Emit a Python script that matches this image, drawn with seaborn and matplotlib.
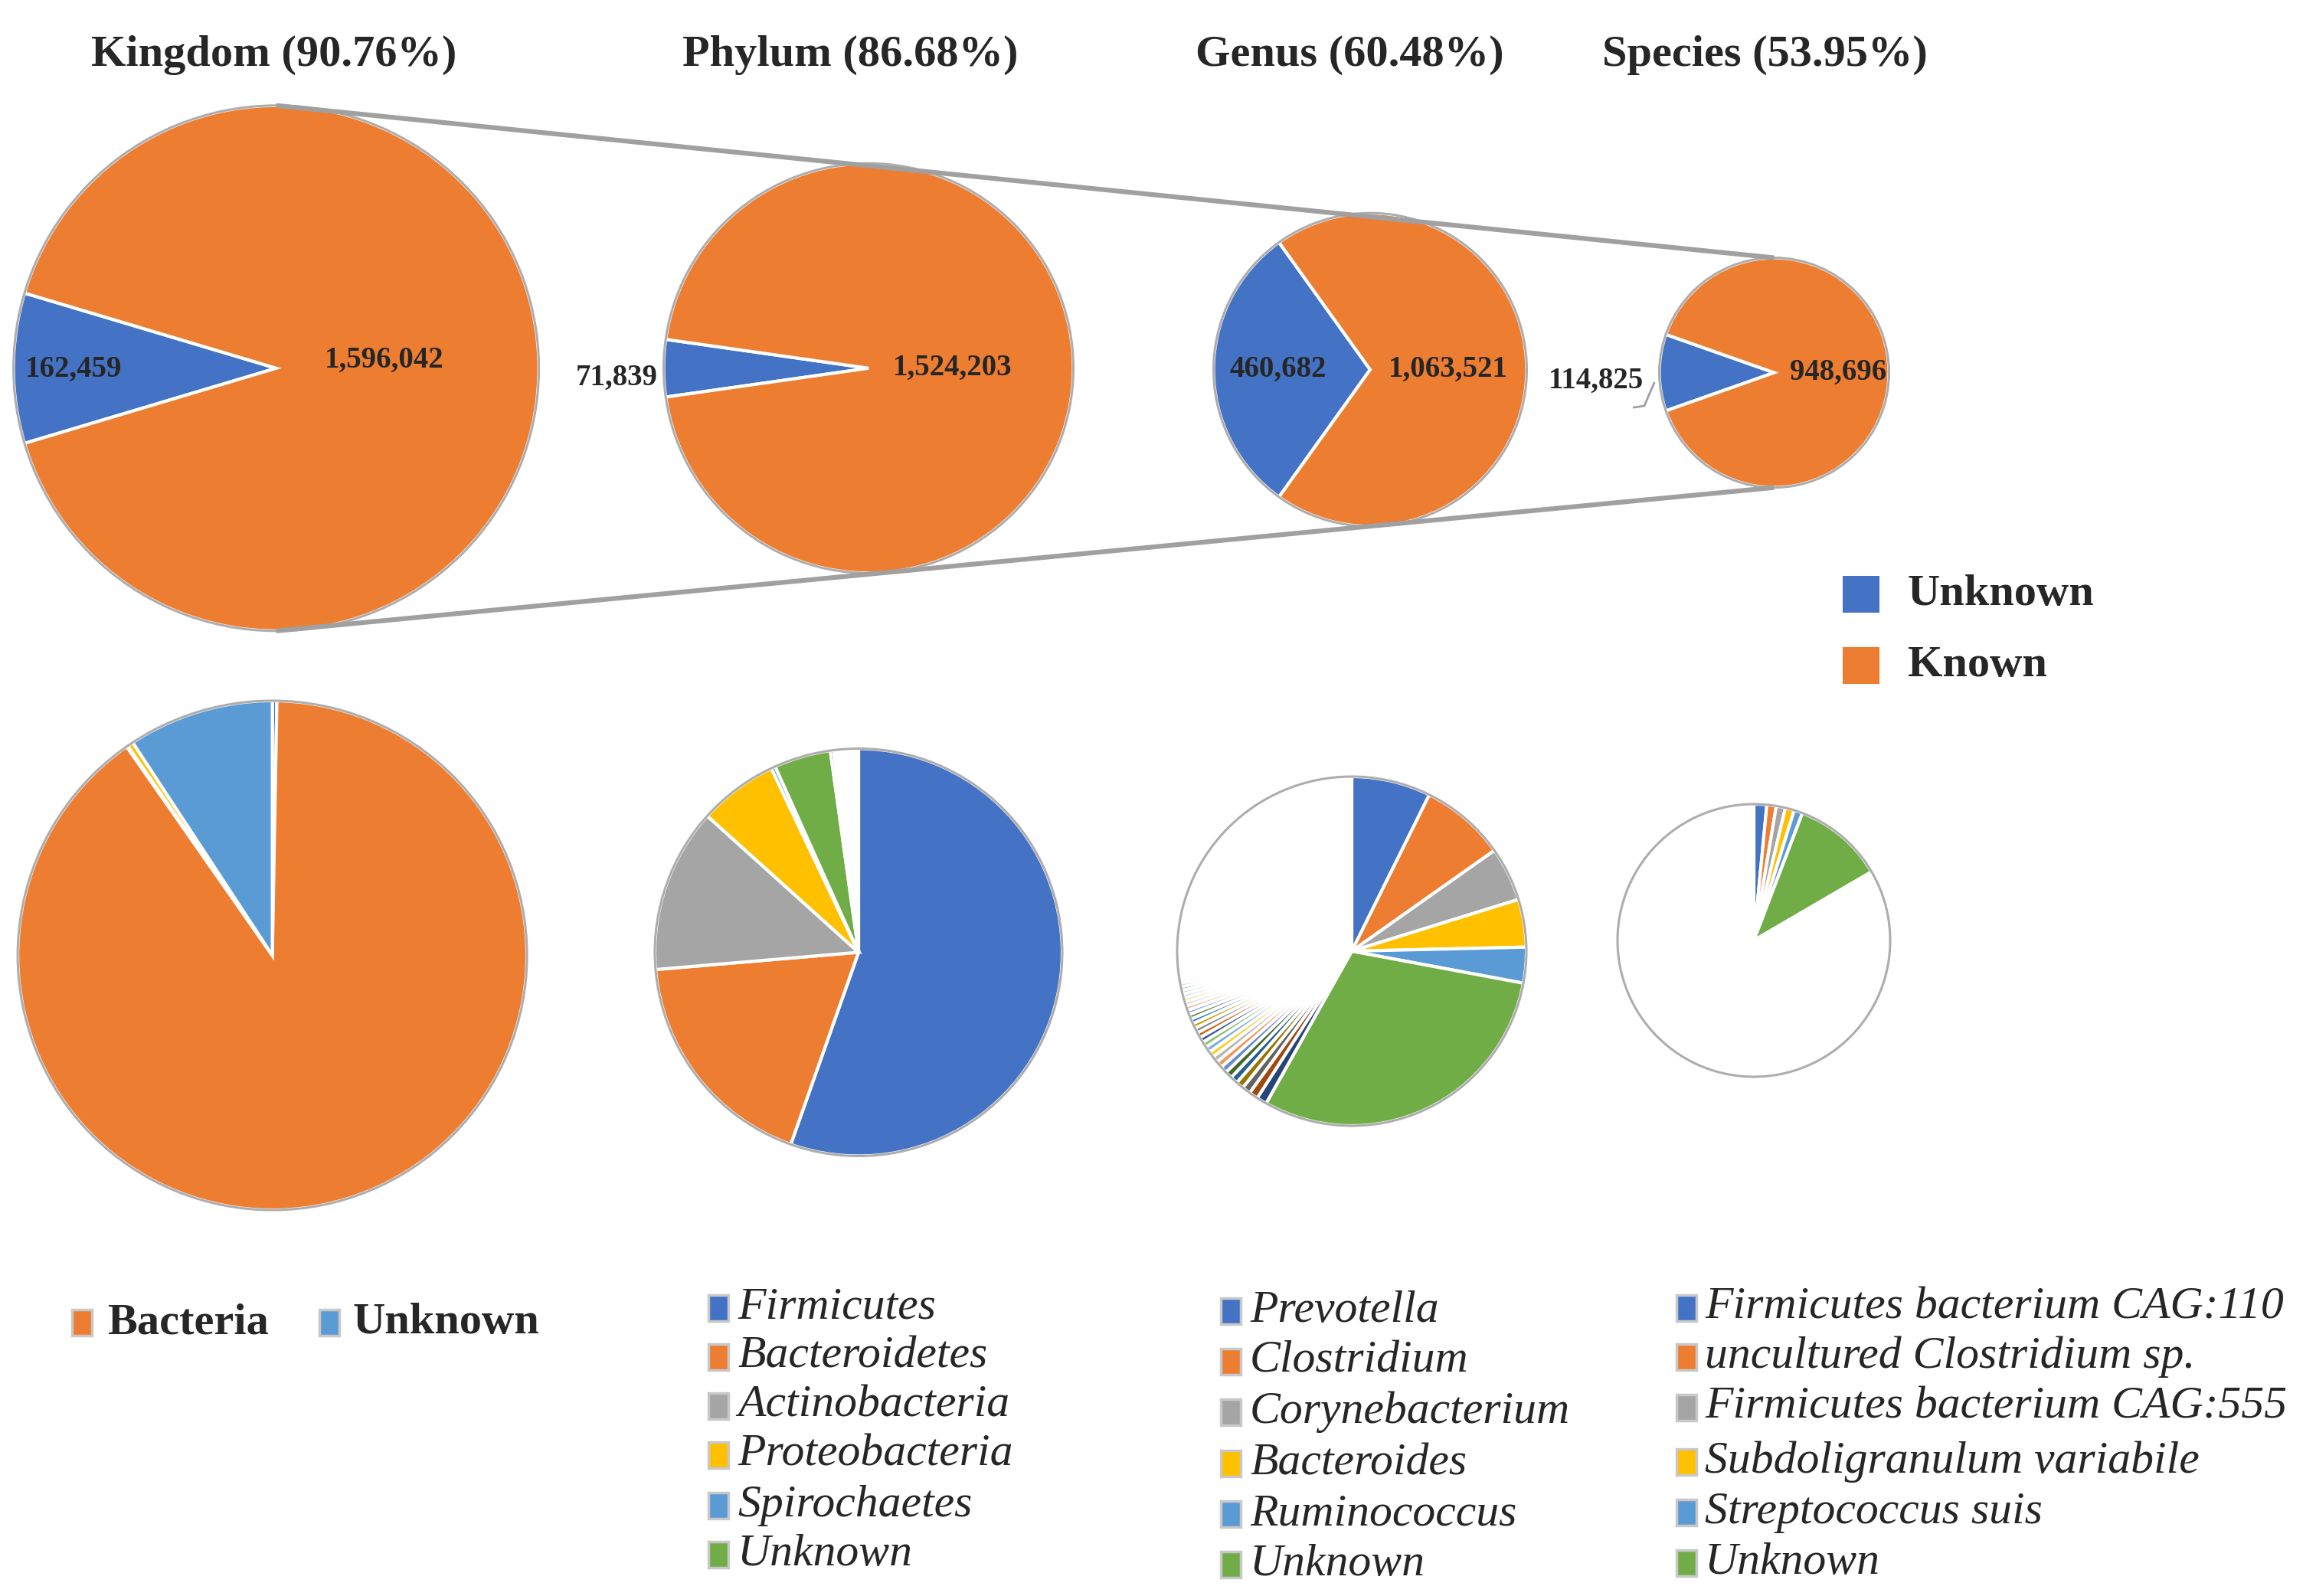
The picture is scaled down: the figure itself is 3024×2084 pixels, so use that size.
import matplotlib
matplotlib.use("Agg")
import matplotlib.pyplot as plt
import matplotlib.font_manager as fm
from matplotlib.patches import Circle, Rectangle
import seaborn as sns

# ---------------- data ----------------
top_titles = ["Kingdom (90.76%)", "Phylum (86.68%)", "Genus (60.48%)", "Species (53.95%)"]
top_unknown = [162459, 71839, 460682, 114825]
top_known = [1596042, 1524203, 1063521, 948696]
top_legend = ["Unknown", "Known"]

kingdom_labels = ["Archaea", "Bacteria", "Eukaryota", "Viruses", "Unknown"]
kingdom_values = [5000, 1583000, 1500, 6542, 162459]
kingdom_legend = ["Bacteria", "Unknown"]

phylum_labels = ["Firmicutes", "Bacteroidetes", "Actinobacteria", "Proteobacteria", "Spirochaetes", "Unknown"]
phylum_values = [884200, 291300, 207900, 100200, 5300, 71839]
phylum_minor = [4400, 2600, 2200, 1900, 1700, 1500, 1400, 1300, 1200, 1100, 1000, 900]
phylum_other = 14103

genus_labels = ["Prevotella", "Clostridium", "Corynebacterium", "Bacteroides", "Ruminococcus", "Unknown"]
genus_values = [111700, 120200, 76200, 67300, 50400, 460682]
genus_minor = [14400, 12700, 11900, 11000, 10600, 10200, 9700, 9300, 8900, 8500,
               8400, 8000, 7600, 7500, 7200, 7100, 6800, 6700, 6400, 6300,
               5900, 5800, 5500, 5400, 5100, 5000, 4700, 4600, 4300, 4200,
               4100, 3800, 3700, 3400, 3300, 3000, 2900, 2600, 2500, 2200,
               2100, 2000, 1800, 1700, 1600]
genus_other = 367321

species_labels = ["Firmicutes bacterium CAG:110", "uncultured Clostridium sp.",
                  "Firmicutes bacterium CAG:555", "Subdoligranulum variabile",
                  "Streptococcus suis", "Unknown"]
species_values = [16200, 11800, 11600, 11300, 10800, 114825]
species_minor = [3500, 3200, 3000, 2700, 2400, 2300, 2100, 1800, 1700, 1500]
species_other = 862796

# ---------------- style ----------------
W, H = 3024, 2084
sns.set_theme(style="white")
names = {f.name for f in fm.fontManager.ttflist}
pref = [n for n in ['Liberation Serif', 'Times New Roman', 'Noto Serif', 'DejaVu Serif'] if n in names]
plt.rcParams['font.family'] = pref + ['DejaVu Sans']

office = ['#4472C4', '#ED7D31', '#A5A5A5', '#FFC000', '#5B9BD5', '#70AD47',
          '#264478', '#9E480E', '#636363', '#997300', '#255E91', '#43682B',
          '#698ED0', '#F1975A', '#B7B7B7', '#FFCD33', '#7CAFDD', '#8CC168',
          '#335AA1', '#D26012', '#848484', '#CC9A00', '#3C7DC4', '#5A8A39',
          '#8FAADC', '#F4B183', '#C9C9C9', '#FFD966', '#9DC3E6', '#A9D18E']
palette = sns.color_palette(office)

fig = plt.figure(figsize=(W / 100, H / 100), dpi=100)
ax = fig.add_axes([0, 0, 1, 1])


def Y(y):
    return H - y


WEDGE = dict(edgecolor='white', linewidth=3)
OUTLINE = '#ADADAD'

# ---------------- top row ----------------
top_geom = [(360.6, 480.8, 343), (1134, 480.8, 267.5), (1789, 482.7, 204.5), (2316.5, 486.6, 150)]
title_x = [358, 1110, 1762, 2304]
unk_off = [(-0.77, 2), (-1.23, 13), (-0.59, 0), (-1.55, 11)]
kn_off = [(0.41, -10), (0.41, 0), (0.50, 0), (0.56, 0)]

for i, (cx, cy, r) in enumerate(top_geom):
    u, k = top_unknown[i], top_known[i]
    frac = u / (u + k)
    ax.pie([u, k], colors=[palette[0], palette[1]], center=(cx, Y(cy)), radius=r,
           startangle=180 - 180 * frac, counterclock=True, wedgeprops=WEDGE, frame=True)
    ax.add_patch(Circle((cx, Y(cy)), r, fill=False, edgecolor=OUTLINE, lw=2.2, zorder=3))
    ax.text(cx + unk_off[i][0] * r, Y(cy + unk_off[i][1]), f"{u:,}", ha='center', va='center',
            fontsize=28, fontweight='bold', zorder=5)
    ax.text(cx + kn_off[i][0] * r, Y(cy + kn_off[i][1]), f"{k:,}", ha='center', va='center',
            fontsize=28, fontweight='bold', zorder=5)
    ax.text(title_x[i], Y(72), top_titles[i], ha='center', va='center', fontsize=42,
            fontweight='bold')

# connecting lines
k0, s0 = top_geom[0], top_geom[3]
ax.plot([k0[0], s0[0]], [Y(k0[1] - k0[2]), Y(s0[1] - s0[2])], color='#A0A0A0', lw=4.5,
        solid_capstyle='butt', zorder=4)
ax.plot([k0[0], s0[0]], [Y(k0[1] + k0[2]), Y(s0[1] + s0[2])], color='#A0A0A0', lw=4.5,
        solid_capstyle='butt', zorder=4)

# leader for species unknown label
ax.plot([2133, 2147, 2152, 2160], [Y(532), Y(530), Y(518), Y(500)], color='#A0A0A0', lw=2, zorder=4)

# top legend
for j, (lab, col) in enumerate(zip(top_legend, [palette[0], palette[1]])):
    yc = [776, 869][j]
    ax.add_patch(Rectangle((2406, Y(yc + 24)), 48, 48, facecolor=col, edgecolor='none'))
    ax.text(2491, Y(yc), lab, ha='left', va='center', fontsize=42, fontweight='bold')

# ---------------- bottom row ----------------
bottom_geom = [(355.6, 1247.5, 332.5), (1121, 1243.5, 266), (1765, 1242, 228), (2290, 1228, 178)]


def draw_pie(values, minor, other, geom):
    vals = list(values) + list(minor) + ([other] if other else [])
    cols = [palette[i % len(palette)] for i in range(len(values) + len(minor))]
    if other:
        cols.append((1, 1, 1))
    cx, cy, r = geom
    ax.pie(vals, colors=cols, center=(cx, Y(cy)), radius=r, startangle=90,
           counterclock=False, wedgeprops=WEDGE, frame=True)
    ax.add_patch(Circle((cx, Y(cy)), r, fill=False, edgecolor=OUTLINE, lw=2.2, zorder=3))


draw_pie(kingdom_values, [], 0, bottom_geom[0])
draw_pie(phylum_values, phylum_minor, phylum_other, bottom_geom[1])
draw_pie(genus_values, genus_minor, genus_other, bottom_geom[2])
draw_pie(species_values, species_minor, species_other, bottom_geom[3])


def marker(xc, yc, col):
    ax.add_patch(Rectangle((xc - 13, Y(yc + 17)), 26, 34, facecolor=col,
                           edgecolor='#C8C8C8', lw=2.5, zorder=5))


# kingdom legend
for lab, mx, tx in zip(kingdom_legend, [107, 430], [140, 461]):
    col = palette[kingdom_labels.index(lab)]
    marker(mx, 1727, col)
    ax.text(tx, Y(1727), lab, ha='left', va='center', fontsize=42, fontweight='bold')

legend_specs = [
    (phylum_labels, 938, 963, [1708, 1772, 1836, 1900, 1966, 2030]),
    (genus_labels, 1607, 1632, [1712, 1778, 1844, 1911, 1977, 2043]),
    (species_labels, 2202, 2226, [1708, 1772, 1838, 1909, 1975, 2041]),
]
for labels, mx, tx, rows in legend_specs:
    for i, (lab, yy) in enumerate(zip(labels, rows)):
        marker(mx, yy, palette[i])
        ax.text(tx, Y(yy), lab, ha='left', va='center', fontsize=43, fontstyle='italic')

ax.set_xlim(0, W)
ax.set_ylim(0, H)
ax.set_aspect('auto')
ax.axis('off')
fig.savefig("out.png", dpi=100, facecolor='white')
